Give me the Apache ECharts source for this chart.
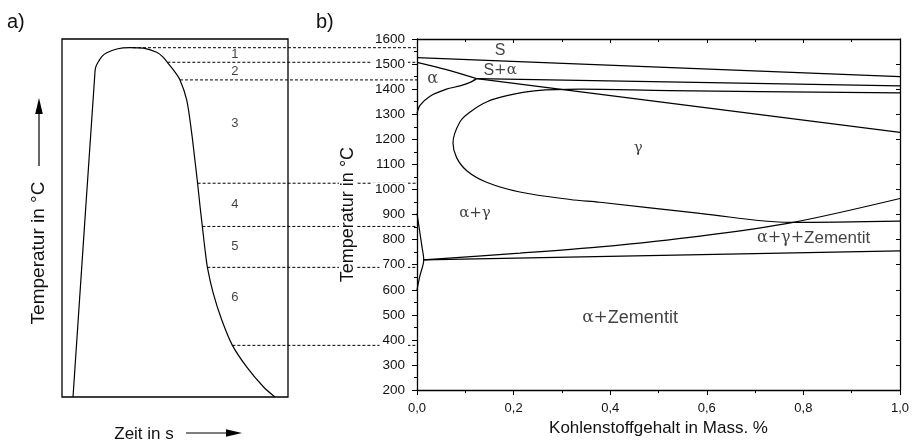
<!DOCTYPE html>
<html><head><meta charset="utf-8">
<script src="https://cdn.jsdelivr.net/npm/echarts@6/dist/echarts.min.js"></script>
<style>html,body{margin:0;padding:0;background:#fff}#c{width:915px;height:442px}</style>
</head><body><div id="c"></div>
<script>
// ---------- data ----------
// a) time-temperature curve (time in arbitrary units 0..100, temperature in °C)
const cycleTime = [4.87,14.6,15.0,16.1,17.6,19.8,24.2,30.1,36.0,41.9,44.6,46.6,49.2,52.2,55.2,57.4,58.8,60.0,61.1,62.1,63.3,64.4,66.9,70.7,75.4,81.7,89.1,94.2];
const cycleTemp = [200,1472,1492,1511,1531,1546,1561,1566,1564,1548,1530,1509,1480,1440,1361,1231,1127,1036,944,867,775,704,606,501,402,318,240,200];
// dashed reference temperatures and their start time on the curve
const dashTemp  = [1566,1509,1440,1036,867,707,402];
const dashStart = [31.4,46.6,52.2,60.0,62.1,64.3,75.4];
// zone numbers
const zoneNames = ['1','2','3','4','5','6'];
const zoneTemp  = [1540,1472,1270,955,788,588];
const zoneTime  = 76.5;

// b) phase diagram lines: [carbon mass %, temperature °C]
const liquidus   = [[0,1526],[1.0,1450]];
const deltaUpper = [[0,1507],[0.061,1478],[0.1235,1442]];
const deltaLower = [[0,1303],[0.0062,1335],[0.027,1372],[0.061,1400],[0.089,1413],[0.11,1427],[0.1235,1442]];
const peritectic = [[0.1235,1442],[1.0,1413]];
const descending = [[0.1235,1442],[1.0,1228]];
const gammaLoop  = [[1.0,1385],[0.523,1394],[0.337,1400],[0.248,1394],[0.186,1374],[0.144,1349],[0.11,1309],[0.089,1270],[0.0745,1185],[0.082,1127],[0.103,1075],[0.144,1029],[0.213,990],[0.317,960],[0.379,949],[0.586,905],[0.772,869],[1.0,874]];
const rising     = [[0.013,719],[0.213,746],[0.379,771],[0.586,814],[0.779,869],[1.0,964]];
const eutectoid  = [[0.013,719],[1.0,755]];
const leftEdge   = [[0,905],[0.01,775],[0.014,719],[0.0062,657],[0,599]];

const phaseLabels = ['S','S+α','α','γ','α+γ','α+γ+Zementit','α+Zementit'];
const phaseLabelC = [0.172,0.172,0.0325,0.458,0.12,0.821,0.441];
const phaseLabelT = [1553,1475,1442,1166,905,807,488];
const phaseLabelSize = [16,16,17,16,16,17,18];

// axis ranges / ticks
const T_MIN = 200, T_MAX = 1600, T_STEP = 100;
const C_MIN = 0, C_MAX = 1, C_STEP = 0.2;

// ---------- layout ----------
const L = {left:62, top:39, width:226, height:358};
const R = {left:417, top:39, width:483, height:358};
const TIME_MAX = 100;
const dashEnd = (R.left - L.left) / L.width * TIME_MAX;   // right-plot axis expressed in time units

const FONT = 'Liberation Sans';
const INK = '#000';
const TXT = '#111';

const series = [];
series.push({type:'line', xAxisIndex:0, yAxisIndex:0, data:cycleTime.map((t,i)=>[t,cycleTemp[i]]),
  smooth:0.3, showSymbol:false, lineStyle:{color:INK,width:1.2}, silent:true});
dashTemp.forEach((T,i)=>{
  series.push({type:'line', xAxisIndex:3, yAxisIndex:3, z:-1, data:[[dashStart[i],T],[dashEnd,T]],
    showSymbol:false, lineStyle:{color:INK,width:1,type:[3,2]}, silent:true});
});
series.push({type:'scatter', xAxisIndex:0, yAxisIndex:0, symbolSize:0, silent:true,
  data:zoneNames.map((n,i)=>({value:[zoneTime,zoneTemp[i]], name:n})),
  label:{show:true, position:'inside', formatter:p=>p.name, fontSize:13, fontFamily:FONT, color:TXT}});

const curveLines = [
  [liquidus,false],[deltaUpper,0.3],[deltaLower,0.3],[peritectic,false],[descending,false],
  [gammaLoop,0.35],[rising,0.3],[eutectoid,false],[leftEdge,0.3]
];
curveLines.forEach(([d,s])=>{
  series.push({type:'line', xAxisIndex:1, yAxisIndex:1, data:d, smooth:s, showSymbol:false,
    lineStyle:{color:INK,width:1.2}, silent:true});
});
const rich = {};
[15,16,17,18].forEach(s=>{
  rich['g'+s]={fontFamily:'DejaVu Serif',fontSize:s-1,color:TXT};
  rich['l'+s]={fontFamily:FONT,fontSize:s,color:TXT};
});
series.push({type:'scatter', xAxisIndex:1, yAxisIndex:1, symbolSize:0, silent:true,
  data:phaseLabels.map((n,i)=>({value:[phaseLabelC[i],phaseLabelT[i]], name:n})),
  label:{show:true, position:'inside', color:TXT, fontFamily:FONT,
    formatter:p=>{
      const sz = phaseLabelSize[p.dataIndex];
      return p.name.replace(/([α-ω+]+)/g, m=>'{g'+sz+'|'+m+'}').replace(/(^|\})([A-Za-z]+)/g,(all,a,b)=>a+'{l'+sz+'|'+b+'}');
    },
    rich
  }});

const axisLineStyle = {color:INK, width:1.3};
const option = {
  animation:false,
  backgroundColor:'#fff',
  grid:[
    {left:L.left, top:L.top, width:L.width, height:L.height, show:true, borderColor:INK, borderWidth:1.3},
    {left:R.left, top:R.top, width:R.width, height:R.height},
    {left:L.left, top:L.top, width:R.left - L.left, height:L.height}
  ],
  xAxis:[
    {gridIndex:0, type:'value', min:0, max:TIME_MAX, show:false},
    {gridIndex:1, type:'value', min:C_MIN, max:C_MAX, interval:C_STEP, position:'bottom',
      axisLine:{onZero:false, lineStyle:axisLineStyle},
      axisTick:{length:5, lineStyle:{color:INK,width:1}},
      minorTick:{show:true, splitNumber:2, length:3, lineStyle:{color:INK,width:1}},
      splitLine:{show:false},
      axisLabel:{formatter:v=>v.toFixed(1).replace('.',','), fontSize:13, fontFamily:FONT, color:TXT, margin:12},
      name:'Kohlenstoffgehalt in Mass. %', nameLocation:'middle', nameGap:27,
      nameTextStyle:{fontSize:17, fontFamily:FONT, color:TXT}},
    {gridIndex:1, type:'value', min:C_MIN, max:C_MAX, interval:C_STEP, position:'top',
      axisLine:{onZero:false, lineStyle:axisLineStyle},
      axisTick:{inside:true, length:4, lineStyle:{color:INK,width:1}},
      minorTick:{show:true, splitNumber:2, length:3, lineStyle:{color:INK,width:1}},
      splitLine:{show:false}, axisLabel:{show:false}},
    {gridIndex:2, type:'value', min:0, max:dashEnd, show:false}
  ],
  yAxis:[
    {gridIndex:0, type:'value', min:T_MIN, max:T_MAX, show:false},
    {gridIndex:1, type:'value', min:T_MIN, max:T_MAX, interval:T_STEP, position:'left',
      axisLine:{show:true, onZero:false, lineStyle:axisLineStyle},
      axisTick:{show:true, length:5, lineStyle:{color:INK,width:1}},
      minorTick:{show:true, splitNumber:2, length:3, lineStyle:{color:INK,width:1}},
      splitLine:{show:false},
      axisLabel:{formatter:v=>String(v), fontSize:13.5, fontFamily:FONT, color:TXT, margin:9, backgroundColor:'#fff', padding:[0,3,0,3]},
      name:'Temperatur in °C', nameLocation:'middle', nameGap:60,
      nameTextStyle:{fontSize:18, fontFamily:FONT, color:TXT, backgroundColor:'#fff', padding:[0,4,0,4]}},
    {gridIndex:1, type:'value', min:T_MIN, max:T_MAX, interval:T_STEP, position:'right',
      axisLine:{show:true, onZero:false, lineStyle:axisLineStyle},
      axisTick:{show:true, inside:true, length:4, lineStyle:{color:INK,width:1}},
      minorTick:{show:false},
      splitLine:{show:false}, axisLabel:{show:false}},
    {gridIndex:2, type:'value', min:T_MIN, max:T_MAX, show:false}
  ],
  graphic:[
    {type:'text', left:7, top:12, style:{text:'a)', fontSize:20, fontFamily:FONT, fill:TXT}},
    {type:'text', left:316, top:12, style:{text:'b)', fontSize:20, fontFamily:FONT, fill:TXT}},
    {type:'text', x:39, y:253, rotation:Math.PI/2, style:{text:'Temperatur in °C', fontSize:19, fontFamily:FONT, fill:TXT, align:'center', verticalAlign:'middle'}},
    {type:'line', shape:{x1:39,y1:166,x2:39,y2:110}, style:{stroke:INK, lineWidth:1.2}},
    {type:'polygon', shape:{points:[[39,98],[35.2,114],[42.8,114]]}, style:{fill:INK}},
    {type:'text', x:144, y:434, style:{text:'Zeit in s', fontSize:17, fontFamily:FONT, fill:TXT, align:'center', verticalAlign:'middle'}},
    {type:'line', shape:{x1:186,y1:433,x2:230,y2:433}, style:{stroke:INK, lineWidth:1.2}},
    {type:'polygon', shape:{points:[[242,433],[226,429.2],[226,436.8]]}, style:{fill:INK}}
  ],
  series
};
const chart = echarts.init(document.getElementById('c'), null, {renderer:'canvas'});
chart.setOption(option);
</script></body></html>
